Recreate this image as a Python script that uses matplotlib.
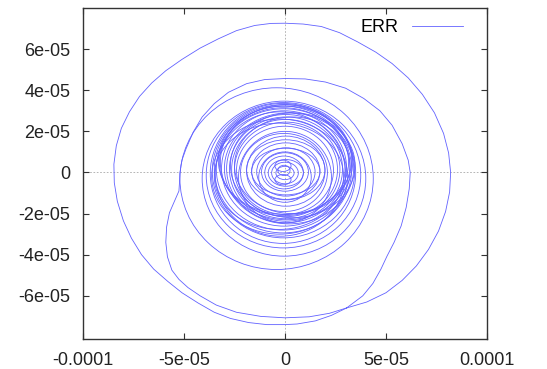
import matplotlib
matplotlib.use("Agg")
import matplotlib.pyplot as plt
from matplotlib.patches import Ellipse

plt.rcParams['font.family'] = ['Liberation Sans', 'DejaVu Sans']

S = 1e-5  # values below are read in units of 1e-5

# outer loop (traced once)
outer_x = [3.05, 2.3, 1.5, 0.6, 0.0, -0.9, -1.8, -2.7, -3.5, -4.3, -5.1, -5.8, -6.5, -7.1,
           -7.6, -8.0, -8.3, -8.45, -8.47, -8.35, -8.1, -7.7, -7.2, -6.6, -5.9, -5.1, -4.2,
           -3.3, -2.4, -1.5, -0.7, 0.0, 0.9, 1.8, 2.7, 3.6, 4.5, 5.3, 6.1, 6.8, 7.4, 7.85,
           8.1, 8.2, 8.15, 7.95, 7.6, 7.1, 6.5, 5.8, 5.0, 4.05, 3.05]
outer_y = [-6.59, -6.95, -7.22, -7.37, -7.40, -7.40, -7.30, -7.10, -6.80, -6.35, -5.85, -5.30,
           -4.70, -4.00, -3.20, -2.35, -1.40, -0.50, 0.40, 1.30, 2.15, 2.95, 3.70, 4.35, 4.95,
           5.50, 6.05, 6.50, 6.90, 7.15, 7.25, 7.26, 7.22, 7.10, 6.80, 6.35, 5.85, 5.30, 4.60,
           3.80, 2.90, 1.90, 0.95, 0.0, -0.95, -1.90, -2.85, -3.75, -4.55, -5.25, -5.85,
           -6.30, -6.59]

# second loop with the two kinks
second_x = [3.05, 2.2, 1.2, 0.0, -1.2, -2.4, -3.4, -4.2, -4.8, -5.25, -5.6, -5.82, -5.9,
            -5.86, -5.72, -5.45, -5.25, -5.22, -5.2, -5.1, -4.9, -4.55, -4.1, -3.5, -2.8,
            -1.9, -1.0, 0.0, 1.0, 2.0, 3.0, 3.9, 4.7, 5.3, 5.8, 6.1, 6.2, 6.15, 6.0, 5.75,
            5.4, 5.05, 4.75, 4.35, 3.85, 3.05]
second_y = [-6.59, -6.85, -7.02, -7.07, -7.0, -6.80, -6.45, -6.0, -5.6, -5.2, -4.75, -4.1,
            -3.40, -2.65, -1.96, -1.35, -0.90, -0.45, 0.0, 0.6, 1.15, 1.95, 2.70, 3.35, 3.90,
            4.32, 4.52, 4.57, 4.55, 4.40, 4.10, 3.60, 3.00, 2.30, 1.40, 0.60, 0.0, -0.8, -1.7,
            -2.6, -3.40, -4.07, -4.70, -5.40, -6.0, -6.59]

# inner turns: left, right, bottom, top crossings of each ring
ring_left = [-5.2, -4.1, -3.9, -3.7, -3.6, -3.5, -3.4, -3.3, -3.25, -3.14, -3.0, -2.89,
             -2.75, -2.64, -2.5, -2.4, -3.63, -3.5, -2.7, -2.5, -2.2, -1.9, -1.9, -1.65,
             -1.65, -1.4, -1.16, -1.0, -0.83, -0.66, -0.5, -0.5, -0.35, -0.45,
             -3.45, -3.2, -2.3, -1.3]
ring_right = [4.37, 4.0, 3.75, 3.5, 3.45, 3.3, 3.22, 3.3, 3.15, 3.05, 3.4, 2.97,
              2.85, 2.72, 2.6, 2.4, 3.1, 2.9, 3.47, 3.22, 2.1, 1.98, 1.98, 1.73,
              1.73, 1.49, 1.16, 0.91, 0.91, 0.66, 0.3, 0.3, 0.25, 0.45,
              3.0, 3.35, 2.3, 1.3]
ring_bottom = [-4.72, -4.07, -3.67, -3.45, -3.18, -2.94, -2.8, -2.04, -2.1, -2.61, -2.5, -2.45,
               -2.37, -2.25, -2.15, -2.04, -3.0, -2.77, -2.2, -2.0, -1.9, -1.64, -1.33, -1.31,
               -1.09, -1.15, -0.91, -0.8, -0.67, -0.55, 0.05, -0.6, -0.15, -0.35,
               -3.1, -2.3, -2.45, -1.45]
ring_top = [4.12, 3.47, 3.4, 3.36, 3.3, 3.23, 3.15, 3.23, 3.1, 3.0, 2.9, 2.82,
            2.7, 2.58, 2.45, 2.25, 2.6, 2.4, 2.9, 2.7, 1.9, 1.77, 1.59, 1.44,
            1.18, 1.2, 0.96, 0.8, 0.63, 0.5, 0.6, -0.1, 0.35, 0.3,
            2.95, 3.3, 2.0, 1.0]

line_color = '#6262ff'
lw = 0.6

fig = plt.figure(figsize=(5.47, 3.69), dpi=100)
ax = fig.add_axes([0.1517, 0.0813, 0.7386, 0.897])

ax.axhline(0, color='#a8a8a8', lw=0.6, ls=(0, (2, 2)), zorder=0)
ax.axvline(0, color='#a8a8a8', lw=0.6, ls=(0, (2, 2)), zorder=0)

line, = ax.plot([v * S for v in outer_x], [v * S for v in outer_y],
                color=line_color, lw=lw, label='ERR')
ax.plot([v * S for v in second_x], [v * S for v in second_y], color=line_color, lw=lw)

for l, r, b, t in zip(ring_left, ring_right, ring_bottom, ring_top):
    ax.add_patch(Ellipse(((l + r) / 2 * S, (b + t) / 2 * S), (r - l) * S, (t - b) * S,
                         fill=False, edgecolor=line_color, lw=lw))

ax.set_xlim(-1e-4, 1e-4)
ax.set_ylim(-8.1e-5, 8.0e-5)
ax.set_xticks([-1e-4, -5e-5, 0, 5e-5, 1e-4])
ax.set_xticklabels(['-0.0001', '-5e-05', '0', '5e-05', '0.0001'])
ax.set_yticks([-6e-5, -4e-5, -2e-5, 0, 2e-5, 4e-5, 6e-5])
ax.set_yticklabels(['-6e-05', '-4e-05', '-2e-05', '0', '2e-05', '4e-05', '6e-05'])
ax.tick_params(direction='in', length=4, width=0.8, top=True, right=True,
               labelsize=13, pad=9, colors='#333333', labelcolor='#222222')
for sp in ax.spines.values():
    sp.set_linewidth(1.0)
    sp.set_color('#333333')

ax.legend(handles=[line], loc='upper right', frameon=False, fontsize=13,
          handlelength=2.8, handletextpad=0.75, borderaxespad=0.2,
          markerfirst=False, bbox_to_anchor=(0.967, 1.0))

fig.savefig('out.png', dpi=100)
